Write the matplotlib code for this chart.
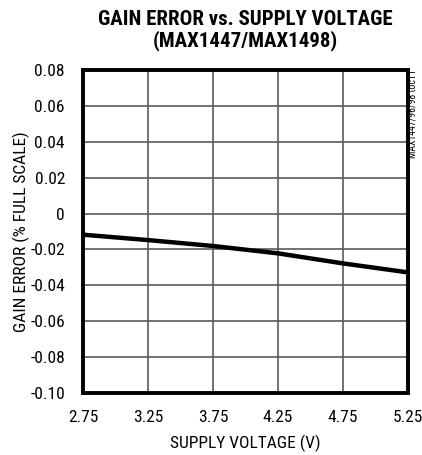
import os
import matplotlib.pyplot as plt
from matplotlib import font_manager as fm
from matplotlib.ticker import FixedLocator

# supply voltage (V) and gain error (% full scale)
supply_v = [2.75, 3.25, 3.75, 4.25, 4.75, 5.25]
gain_err = [-0.0118, -0.0148, -0.0181, -0.0222, -0.0278, -0.0328]

x_ticks = [2.75, 3.25, 3.75, 4.25, 4.75, 5.25]
y_ticks = [0.08, 0.06, 0.04, 0.02, 0, -0.02, -0.04, -0.06, -0.08, -0.10]
y_labels = ['0.08', '0.06', '0.04', '0.02', '0', '-0.02', '-0.04', '-0.06', '-0.08', '-0.10']


# look for a narrow sans font (chart uses Helvetica Narrow style text)
def find_narrow(bold):
    files = [f.fname for f in fm.fontManager.ttflist]
    prefs = ['liberationsansnarrow', 'arialn', 'robotocondensed', 'dejavusanscondensed',
             'notosans-condensed', 'opensans-condensed', 'condensed', 'narrow']
    for p in prefs:
        for fn in sorted(files):
            b = os.path.basename(fn).lower().replace(' ', '')
            if p not in b or 'oblique' in b or 'italic' in b:
                continue
            is_bold = 'bold' in b and 'semibold' not in b and 'extrabold' not in b
            if bold == is_bold:
                if not bold and any(w in b for w in ['light', 'thin', 'medium', 'black', 'semibold', 'extra']):
                    continue
                return fn
    return None


reg_file = find_narrow(False)
bold_file = find_narrow(True)
if reg_file:
    fp = fm.FontProperties(fname=reg_file, size=12.5)
    fp_small = fm.FontProperties(fname=reg_file, size=7)
else:
    fp = fm.FontProperties(family='DejaVu Sans', stretch='condensed', size=10.5)
    fp_small = fm.FontProperties(family='DejaVu Sans', size=5.5)
if bold_file:
    fp_title = fm.FontProperties(fname=bold_file, size=15)
else:
    fp_title = fm.FontProperties(family='DejaVu Sans', weight='bold', size=12)

fig = plt.figure(figsize=(4.22, 4.55), dpi=100)
ax = fig.add_axes([0.1967, 0.1363, 0.770, 0.710])

ax.plot(supply_v, gain_err, color='black', linewidth=3.2, solid_capstyle='butt', zorder=3)

ax.set_xlim(2.75, 5.25)
ax.set_ylim(-0.10, 0.08)
ax.xaxis.set_major_locator(FixedLocator(x_ticks))
ax.set_xticklabels(['%.2f' % v for v in x_ticks], fontproperties=fp)
ax.yaxis.set_major_locator(FixedLocator(y_ticks))
ax.set_yticklabels(y_labels, fontproperties=fp)
ax.tick_params(axis='x', length=0, pad=12)
ax.tick_params(axis='y', length=0, pad=13)

ax.grid(True, color='#5a5a5a', linewidth=1.2)
for s in ax.spines.values():
    s.set_linewidth(2.8)
    s.set_color('black')
    s.set_zorder(4)

ax.set_xlabel('SUPPLY VOLTAGE (V)', fontproperties=fp, labelpad=7)
ax.set_ylabel('GAIN ERROR (% FULL SCALE)', fontproperties=fp, labelpad=0.5)

fig.text(0.582, 0.957, 'GAIN ERROR vs. SUPPLY VOLTAGE', ha='center', va='center',
         fontproperties=fp_title)
fig.text(0.582, 0.910, '(MAX1447/MAX1498)', ha='center', va='center',
         fontproperties=fp_title)
fig.text(0.9775, 0.848, 'MAX1447/96/98 toc11', rotation=90, ha='center', va='top',
         fontproperties=fp_small)

fig.savefig('out.png', dpi=100)
